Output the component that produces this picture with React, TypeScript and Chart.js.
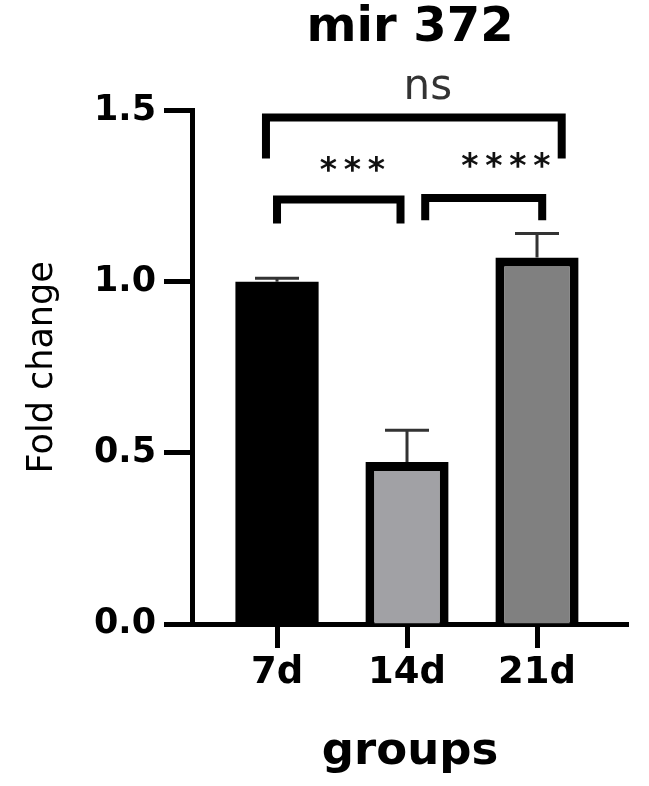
import { useEffect, useRef } from 'react'
import { Chart, registerables } from 'chart.js'

Chart.register(...registerables);

const categories = ['7d', '14d', '21d'];
const positions = [0, 1, 2];
const foldChange = [1.0, 0.473, 1.071];
const sem = [0.01, 0.093, 0.07];
const barColors = ['#000000', '#a1a1a5', '#808080'];
const yTicks = [0, 0.5, 1.0, 1.5];

// significance brackets (data units): left leg, right leg, bar height, leg end
const bracketLeft = [-0.085, 0.0, 1.14];
const bracketRight = [2.19, 0.95, 2.04];
const bracketTop = [1.48, 1.24, 1.245];
const bracketFoot = [1.36, 1.17, 1.18];
const sigLabels = ['ns', '***', '****'];
const sigLabelX = [1.16, 0.58, 1.76];
const sigLabelY = [1.535, 1.345, 1.355];

const FONT = "'DejaVu Sans', 'Liberation Sans', Arial, sans-serif";

const annotations = {
  id: 'annotations',
  afterDatasetsDraw(chart: Chart) {
    const { ctx } = chart;
    const x = chart.scales.x;
    const y = chart.scales.y;
    ctx.save();

    // error bars (upper half only)
    ctx.strokeStyle = '#333';
    ctx.lineWidth = 3;
    positions.forEach((p, i) => {
      const px = x.getPixelForValue(p);
      const y0 = y.getPixelForValue(foldChange[i]);
      const y1 = y.getPixelForValue(foldChange[i] + sem[i]);
      ctx.beginPath();
      ctx.moveTo(px, y0);
      ctx.lineTo(px, y1);
      ctx.moveTo(px - 22, y1);
      ctx.lineTo(px + 22, y1);
      ctx.stroke();
    });

    // brackets
    ctx.strokeStyle = '#000';
    ctx.lineWidth = 8;
    ctx.lineJoin = 'miter';
    bracketLeft.forEach((l, i) => {
      const xl = x.getPixelForValue(l);
      const xr = x.getPixelForValue(bracketRight[i]);
      const yt = y.getPixelForValue(bracketTop[i]);
      const yf = y.getPixelForValue(bracketFoot[i]);
      ctx.beginPath();
      ctx.moveTo(xl, yf);
      ctx.lineTo(xl, yt);
      ctx.lineTo(xr, yt);
      ctx.lineTo(xr, yf);
      ctx.stroke();
    });

    // labels
    sigLabels.forEach((txt, i) => {
      const cx = x.getPixelForValue(sigLabelX[i]);
      const cy = y.getPixelForValue(sigLabelY[i]);
      if (txt === 'ns') {
        ctx.font = `42px ${FONT}`;
        ctx.fillStyle = '#333';
        ctx.textAlign = 'center';
        ctx.textBaseline = 'alphabetic';
        ctx.fillText(txt, cx, cy);
        return;
      }
      ctx.font = `bold 33px ${FONT}`;
      ctx.fillStyle = '#111';
      ctx.textAlign = 'center';
      ctx.textBaseline = 'alphabetic';
      const m = ctx.measureText('*');
      const base = cy + (m.actualBoundingBoxAscent - m.actualBoundingBoxDescent) / 2;
      const n = txt.length;
      for (let k = 0; k < n; k++) {
        ctx.fillText('*', cx + (k - (n - 1) / 2) * 24, base);
      }
    });

    ctx.restore();
  },
};

export default function App() {
  const canvasRef = useRef<HTMLCanvasElement>(null);

  useEffect(() => {
    if (!canvasRef.current) return;
    const chart = new Chart(canvasRef.current, {
      type: 'bar',
      data: {
        datasets: [{
          data: positions.map((p, i) => ({ x: p, y: foldChange[i] })),
          backgroundColor: barColors,
          borderColor: '#000',
          borderWidth: [0, 9, 9],
          borderSkipped: 'start',
          barPercentage: 0.64,
          categoryPercentage: 1,
        }],
      },
      options: {
        responsive: true,
        maintainAspectRatio: false,
        animation: false,
        layout: { padding: { left: 0, right: 21, top: 0, bottom: 0 } },
        plugins: {
          legend: { display: false },
          tooltip: { enabled: false },
          title: {
            display: true,
            text: 'mir 372',
            fullSize: false,
            color: '#000',
            font: { family: FONT, size: 48, weight: 'bold' },
            padding: { top: 0, bottom: 53 },
          },
        },
        scales: {
          x: {
            type: 'linear',
            offset: false,
            min: -0.654,
            max: 2.7,
            afterBuildTicks: (scale) => { scale.ticks = positions.map(v => ({ value: v })); },
            afterFit: (scale) => { scale.height = 162; },
            ticks: {
              color: '#000',
              font: { family: FONT, size: 37, weight: 'bold' },
              padding: 3,
              autoSkip: false,
              maxRotation: 0,
              callback: (v) => categories[positions.indexOf(Number(v))] ?? '',
            },
            grid: { offset: false, drawOnChartArea: false, drawTicks: true, tickLength: 24, tickWidth: 5, tickColor: '#000' },
            border: { display: true, color: '#000', width: 5 },
            title: {
              display: true,
              text: 'groups',
              color: '#000',
              font: { family: FONT, size: 45, weight: 'bold' },
              padding: { top: 0, bottom: 7 },
            },
          },
          y: {
            min: 0,
            max: 1.5,
            afterBuildTicks: (scale) => { scale.ticks = yTicks.map(v => ({ value: v })); },
            afterFit: (scale) => { scale.width = 192; },
            ticks: {
              color: '#000',
              font: { family: FONT, size: 35, weight: 'bold' },
              padding: 8,
              callback: (v) => Number(v).toFixed(1),
            },
            grid: { drawOnChartArea: false, drawTicks: true, tickLength: 28, tickWidth: 5, tickColor: '#000' },
            border: { display: true, color: '#000', width: 5 },
            title: {
              display: true,
              text: 'Fold change',
              color: '#000',
              font: { family: FONT, size: 35, weight: 'normal' },
              padding: { top: 22, bottom: 0 },
            },
          },
        },
      },
      plugins: [annotations],
    });
    return () => chart.destroy();
  }, []);

  return (
    <div style={{ position: 'fixed', left: 0, top: 0, width: 649, height: 786, background: '#fff' }}>
      <canvas ref={canvasRef} />
    </div>
  );
}
